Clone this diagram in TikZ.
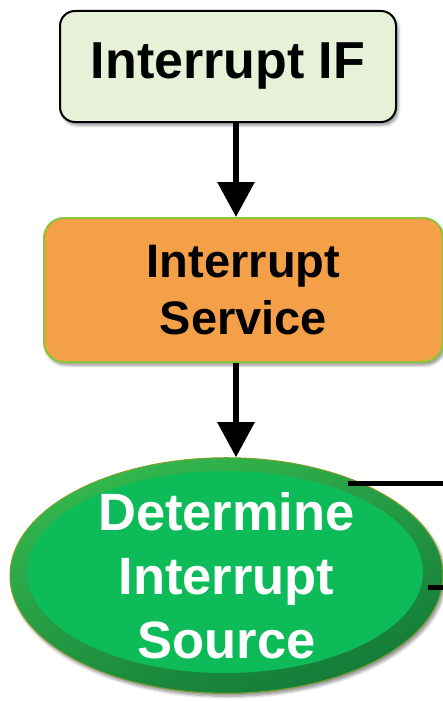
\documentclass[tikz,border=0pt]{standalone}
\usepackage{fontspec}
\setmainfont{Liberation Sans}
\usetikzlibrary{arrows.meta,shadows.blur,shapes.geometric}

\definecolor{ifill}{HTML}{E6F1D8}
\definecolor{svcfill}{HTML}{F4A049}
\definecolor{svcedge}{HTML}{8CC43C}
\definecolor{srcinner}{HTML}{0DBB59}
\definecolor{srclight}{HTML}{34B84E}
\definecolor{srcdark}{HTML}{137A37}
\definecolor{srcedge}{HTML}{7E9E2C}

\tikzset{
  softshadow/.style={blur shadow={shadow xshift=2pt, shadow yshift=-3pt,
      shadow blur radius=3pt, shadow blur steps=6, shadow opacity=45}},
  ifbox/.style={draw=black, line width=2pt, fill=ifill, rounded corners=15pt,
      minimum width=336pt, minimum height=111pt, inner sep=0pt, softshadow,
      font=\fontsize{52}{60}\selectfont\bfseries},
  svcbox/.style={draw=svcedge, line width=2pt, fill=svcfill, rounded corners=20pt,
      minimum width=399pt, minimum height=144pt, inner sep=0pt, softshadow,
      align=center, font=\fontsize{47}{57}\selectfont\bfseries},
  srcshape/.style={ellipse, draw=srcedge, line width=1pt, inner sep=0pt,
      minimum width=433pt, minimum height=235pt, softshadow,
      top color=srclight, bottom color=srcdark, shading angle=20,
      text=white, align=center, font=\fontsize{52.5}{64}\selectfont\bfseries,
      path picture={\fill[srcinner]
        ([shift={(-1.5pt,3.5pt)}]path picture bounding box.center)
        ellipse [x radius=198pt, y radius=101pt];}},
  flow/.style={line width=6pt, -{Triangle[width=36pt,length=35pt]}},
  link/.style={line width=5pt}
}

\begin{document}
\begin{tikzpicture}[x=1pt, y=-1pt]
  \useasboundingbox (0,0) rectangle (443,701);

  % flow nodes
  \node[ifbox] (intif) at (228,66.5) {Interrupt IF};
  \node[svcbox] (svc) at (243.5,290) {Interrupt\\Service};
  \node[srcshape] (src) at (226.5,575.5) {Determine\\Interrupt\\Source};

  % connections leading off to the right
  \coordinate (ja) at (348,483);
  \coordinate (jaout) at (443,483);
  \coordinate (jb) at (428,587);
  \coordinate (jbout) at (443,587);
  \draw[link] (ja) -- (jaout);
  \draw[link] (jb) -- (jbout);

  % main flow arrows
  \draw[flow] (intif.south -| 236,0) -- (svc.north -| 236,0);
  \draw[flow] (svc.south -| 236,0) -- (src.north -| 236,0);
\end{tikzpicture}
\end{document}
